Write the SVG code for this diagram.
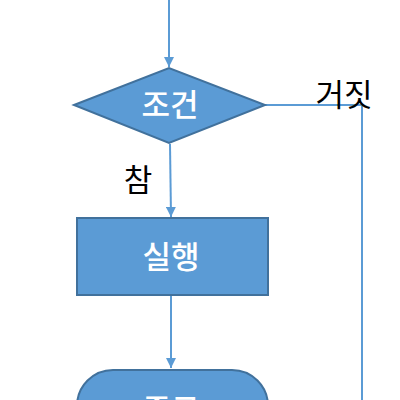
<svg xmlns="http://www.w3.org/2000/svg" width="400" height="400" viewBox="0 0 400 400">
<style>
.shape{fill:#5B9BD5;stroke:#41719C;stroke-width:2}
.wt{fill:#fff;font-family:"Noto Sans CJK KR","Liberation Sans",sans-serif;font-size:31px;font-weight:500;text-anchor:middle}
.bt{fill:#000;font-family:"Noto Sans CJK KR","Liberation Sans",sans-serif;font-size:31px;text-anchor:middle}
.ln{stroke:#5B9BD5;stroke-width:2;fill:none}
</style>
<defs>
<marker id="ah" viewBox="0 0 10 10" refX="10" refY="5" markerWidth="5" markerHeight="5" orient="auto" markerUnits="strokeWidth">
<path d="M0,0 L10,5 L0,10 z" fill="#5B9BD5"/>
</marker>
</defs>
<g id="connectors">
<line class="ln" x1="169" y1="0" x2="169" y2="67" marker-end="url(#ah)"/>
<line class="ln" x1="170" y1="144" x2="171" y2="217" marker-end="url(#ah)"/>
<line class="ln" x1="171" y1="296" x2="171" y2="368" marker-end="url(#ah)"/>
<polyline class="ln" points="265,105 362,105 362,400"/>
</g>
<g id="cond">
<polygon class="shape" points="74,105 169,68 265,105 169,143"/>
<text class="wt" x="170" y="116">조건</text>
</g>
<g id="exec">
<rect class="shape" x="77" y="218" width="191" height="77"/>
<text class="wt" x="171" y="268">실행</text>
</g>
<g id="end">
<rect class="shape" x="77" y="370" width="191" height="80" rx="36" ry="36"/>
<text class="wt" x="171" y="421">종료</text>
</g>
<text class="bt" x="138" y="191">참</text>
<text class="bt" x="344" y="106">거짓</text>
</svg>
